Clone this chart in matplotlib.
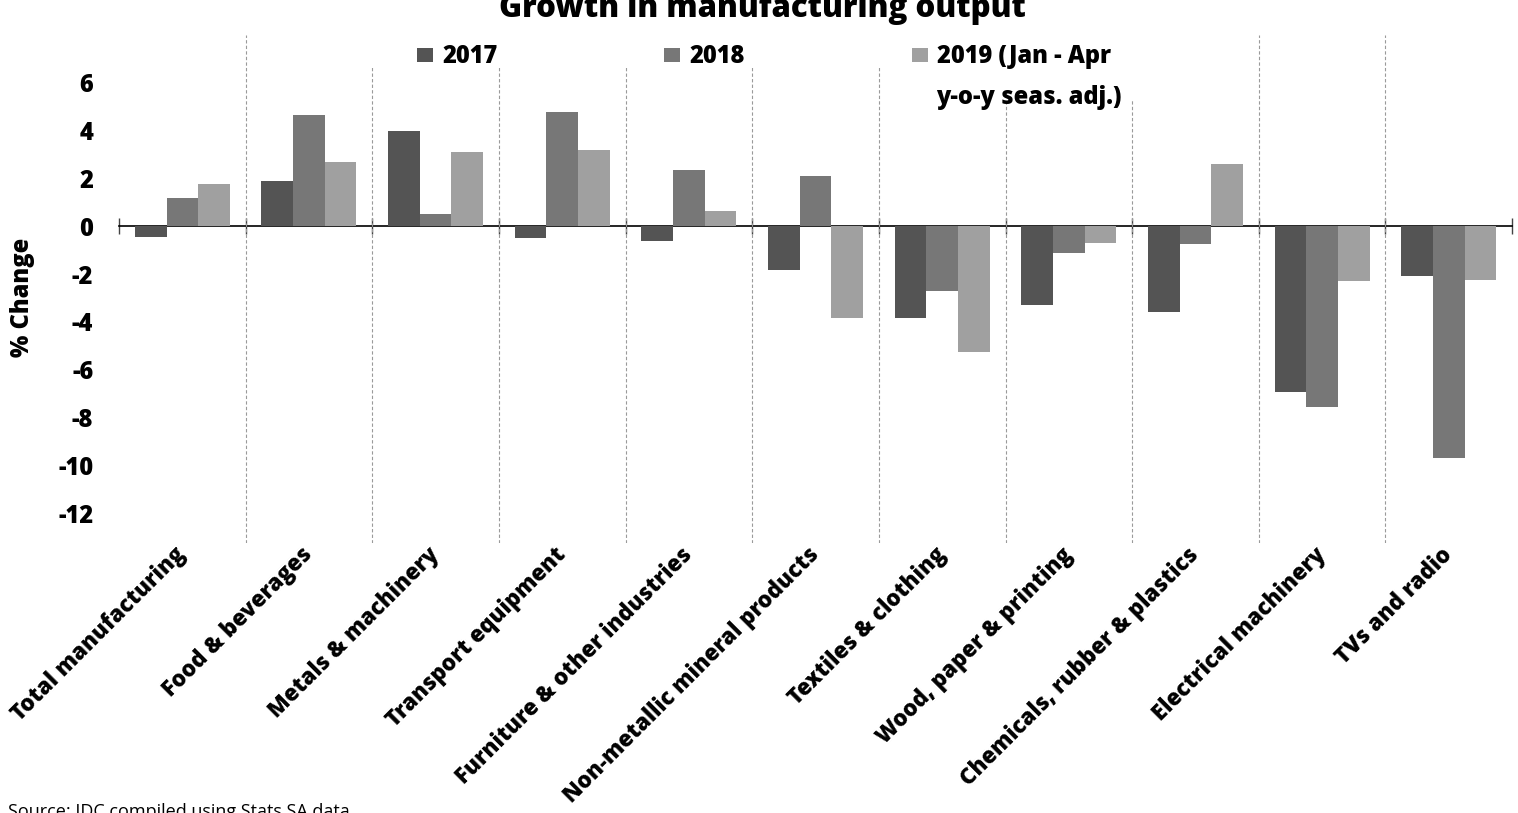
import matplotlib.pyplot as plt
import numpy as np
from matplotlib.patches import Rectangle

plt.rcParams["font.family"] = ["Open Sans", "DejaVu Sans"]
BOLD = 800

# Data
categories = ["Total manufacturing", "Food & beverages", "Metals & machinery",
              "Transport equipment", "Furniture & other industries",
              "Non-metallic mineral products", "Textiles & clothing",
              "Wood, paper & printing", "Chemicals, rubber & plastics",
              "Electrical machinery", "TVs and radio"]
vals_2017 = [-0.45, 1.9, 4.0, -0.5, -0.6, -1.85, -3.85, -3.3, -3.6, -6.95, -2.1]
vals_2018 = [1.2, 4.65, 0.5, 4.8, 2.35, 2.1, -2.7, -1.1, -0.75, -7.55, -9.7]
vals_2019 = [1.75, 2.7, 3.1, 3.2, 0.65, -3.85, -5.25, -0.7, 2.6, -2.3, -2.25]
series_labels = ["2017", "2018", "2019 (Jan - Apr"]
series_note = "y-o-y seas. adj.)"
colors = ["#545454", "#777777", "#a0a0a0"]
yticks = [6, 4, 2, 0, -2, -4, -6, -8, -10, -12]

fig = plt.figure(figsize=(15.18, 8.13), dpi=100)
ax = fig.add_axes([0.0784, 0.3321, 0.9177, 0.6248])

x = np.arange(len(categories))
width = 0.25
bars = []
for i, (vals, c) in enumerate(zip([vals_2017, vals_2018, vals_2019], colors)):
    b = ax.bar(x + (i - 1) * width, vals, width=width, color=c, zorder=2)
    bars.append(b)

ax.set_xlim(-0.5, len(categories) - 0.5)
ax.set_ylim(-13.25, 8)

# No frame, zero line drawn by a secondary axis
for s in ax.spines.values():
    s.set_visible(False)

zero_axis = ax.secondary_xaxis(0, transform=ax.transData)
zero_axis.set_xticks(np.arange(-0.5, len(categories), 1))
zero_axis.tick_params(direction="inout", length=12, width=1, color="#444444",
                      labelbottom=False)
zero_axis.spines["bottom"].set_linewidth(1.2)

# y axis
ax.set_yticks(yticks)
ax.set_yticklabels([str(t) for t in yticks], fontsize=17, fontweight=BOLD)
ax.tick_params(axis="y", length=0, pad=18.5)
ax.set_ylabel("% Change", fontsize=17, fontweight=BOLD)
ax.yaxis.set_label_coords(-0.0604, 0.484)

# x axis labels
ax.set_xticks(x)
ax.set_xticklabels(categories, rotation=45, ha="right", va="center",
                   rotation_mode="anchor", fontsize=16, fontweight=BOLD)
ax.tick_params(axis="x", length=0, pad=6)

# dashed separators between categories
ax.set_xticks(np.arange(0.5, len(categories) - 1, 1), minor=True)
ax.tick_params(axis="x", which="minor", length=0)
ax.set_axisbelow(True)
ax.grid(which="minor", axis="x", linestyle=(0, (3, 2)), color="#9a9a9a", lw=0.8)

# white area behind the legend hides the separators
ax.add_patch(Rectangle((0.13, 0.935), 0.604, 0.07, transform=ax.transAxes,
                       fc="white", ec="none", zorder=0.8, clip_on=False))
ax.add_patch(Rectangle((0.626, 0.872), 0.108, 0.07, transform=ax.transAxes,
                       fc="white", ec="none", zorder=0.8, clip_on=False))

leg = ax.legend(bars, series_labels, loc="upper left", ncol=3,
                bbox_to_anchor=(0.2747, 0.9459), bbox_transform=fig.transFigure,
                frameon=False, columnspacing=7.07, handletextpad=0.38,
                handlelength=0.68, handleheight=0.55, borderpad=0,
                borderaxespad=0, prop={"size": 17, "weight": BOLD})
ax.annotate(series_note, xy=(0, 0), xycoords=leg.get_texts()[2],
            xytext=(0, -11.5), textcoords="offset points", ha="left", va="top",
            fontsize=17, fontweight=BOLD, zorder=6)

fig.text(0.502, 1 - 17 / 813, "Growth in manufacturing output", ha="center",
         va="baseline", fontsize=22.5, fontweight=BOLD)
fig.text(8 / 1518, -4 / 813, "Source: IDC compiled using Stats SA data",
         fontsize=13, va="baseline")

fig.savefig("out.png", dpi=100)
